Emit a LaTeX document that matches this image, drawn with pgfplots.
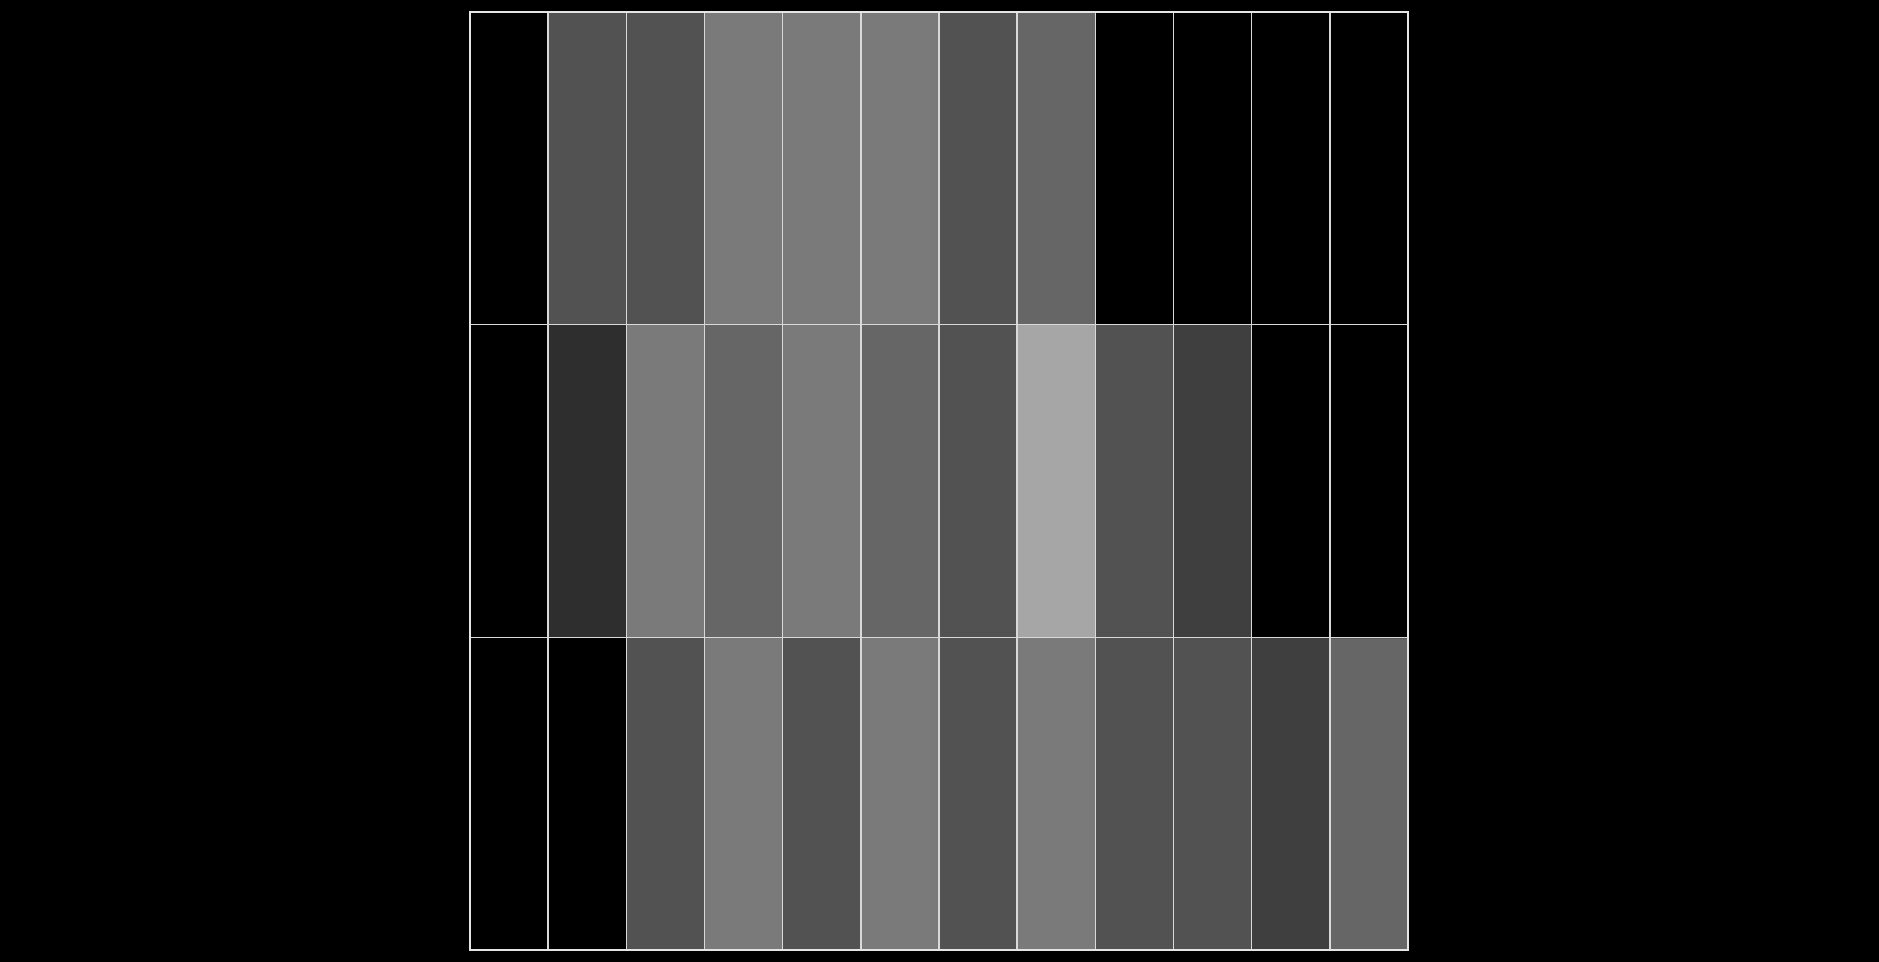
\documentclass[border=0pt]{standalone}
\usepackage{pgfplots}
\pgfplotsset{compat=1.18}
\begin{document}
\begin{tikzpicture}
\fill[black] (0,0) rectangle (469.75bp,240.5bp);
\useasboundingbox (0,0) rectangle (469.75bp,240.5bp);
\begin{axis}[
  at={(117.5bp,3bp)}, anchor=south west,
  scale only axis, width=234.5bp, height=234.5bp,
  xmin=-0.5, xmax=11.5, ymin=-0.5, ymax=2.5,
  xtick={0.5,1.5,...,10.5}, ytick={0.5,1.5},
  xticklabels={}, yticklabels={},
  major tick length=0pt,
  grid=major, major grid style={white!85!black, line width=0.4bp},
  axis line style={white!90!black, line width=0.5bp},
  axis on top,
  colormap={mygray}{gray=(0) gray=(0.18) gray=(0.247) gray=(0.322) gray=(0.4) gray=(0.478) gray=(0.565) gray=(0.651)},
  point meta min=0, point meta max=7,
]
\addplot[matrix plot*, mesh/cols=12, point meta=explicit, draw=none] table[meta=c] {
x y c
0 0 0
1 0 0
2 0 3
3 0 5
4 0 3
5 0 5
6 0 3
7 0 5
8 0 3
9 0 3
10 0 2
11 0 4
0 1 0
1 1 1
2 1 5
3 1 4
4 1 5
5 1 4
6 1 3
7 1 7
8 1 3
9 1 2
10 1 0
11 1 0
0 2 0
1 2 3
2 2 3
3 2 5
4 2 5
5 2 5
6 2 3
7 2 4
8 2 0
9 2 0
10 2 0
11 2 0
};
\end{axis}
\end{tikzpicture}
\end{document}
